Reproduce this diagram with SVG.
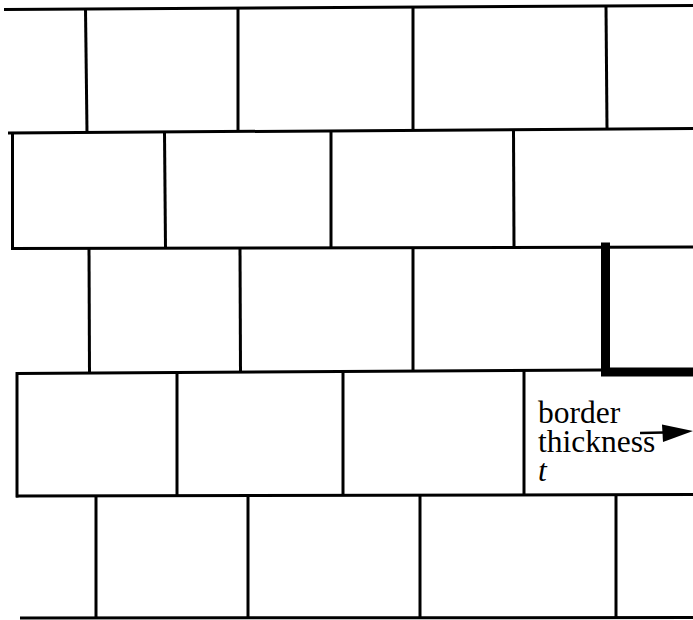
<svg xmlns="http://www.w3.org/2000/svg" width="693" height="620" viewBox="0 0 693 620">
<style>
.l{stroke:#000;stroke-width:3;fill:none;stroke-linecap:butt}
.thick{stroke:#000;stroke-width:9;fill:none;stroke-linecap:square}
.txt{font-family:"Liberation Serif","Times New Roman",serif;font-size:31.5px;fill:#000}
</style>
<rect width="693" height="620" fill="#fff"/>
<g id="horizontal-joints">
<line class="l" x1="4" y1="9.5" x2="693" y2="5.5"/>
<line class="l" x1="8" y1="133" x2="693" y2="128.5"/>
<line class="l" x1="11" y1="248.5" x2="693" y2="247"/>
<line class="l" x1="16" y1="373.5" x2="602" y2="370"/>
<line class="l" x1="16" y1="496" x2="693" y2="494.5"/>
<line class="l" x1="20" y1="618" x2="693" y2="617.5"/>
</g>
<g id="row1">
<line class="l" x1="85.5" y1="9" x2="87" y2="132.5"/>
<line class="l" x1="238" y1="8" x2="238" y2="132"/>
<line class="l" x1="413" y1="7" x2="413" y2="131"/>
<line class="l" x1="606" y1="6" x2="607" y2="129"/>
</g>
<g id="row2">
<line class="l" x1="12.5" y1="132" x2="12.5" y2="250"/>
<line class="l" x1="164.5" y1="132" x2="165.5" y2="248.5"/>
<line class="l" x1="331" y1="131" x2="331" y2="248"/>
<line class="l" x1="513.5" y1="130" x2="514" y2="248"/>
</g>
<g id="row3">
<line class="l" x1="89" y1="248" x2="89.5" y2="373"/>
<line class="l" x1="240" y1="248" x2="240.5" y2="372"/>
<line class="l" x1="413" y1="248" x2="413" y2="371"/>
</g>
<g id="row4">
<line class="l" x1="17" y1="372" x2="17" y2="497.5"/>
<line class="l" x1="177" y1="373" x2="177" y2="496"/>
<line class="l" x1="343" y1="372" x2="343" y2="496"/>
<line class="l" x1="524" y1="371" x2="524" y2="495"/>
</g>
<g id="row5">
<line class="l" x1="96" y1="496" x2="96" y2="618"/>
<line class="l" x1="248" y1="495.5" x2="248" y2="618"/>
<line class="l" x1="420" y1="495" x2="420" y2="618"/>
<line class="l" x1="616" y1="494.5" x2="616" y2="617.5"/>
</g>
<g id="border">
<polyline class="thick" points="605.5,247 605.5,372 693,372"/>
</g>
<g id="label">
<text class="txt" x="538" y="423">border</text>
<text class="txt" x="538" y="452">thickness</text>
<text class="txt" x="538" y="481" font-style="italic">t</text>
<line x1="640" y1="433" x2="664" y2="432.5" stroke="#000" stroke-width="2.5"/>
<polygon points="662,424.5 693,431 663,442" fill="#000"/>
</g>
</svg>
